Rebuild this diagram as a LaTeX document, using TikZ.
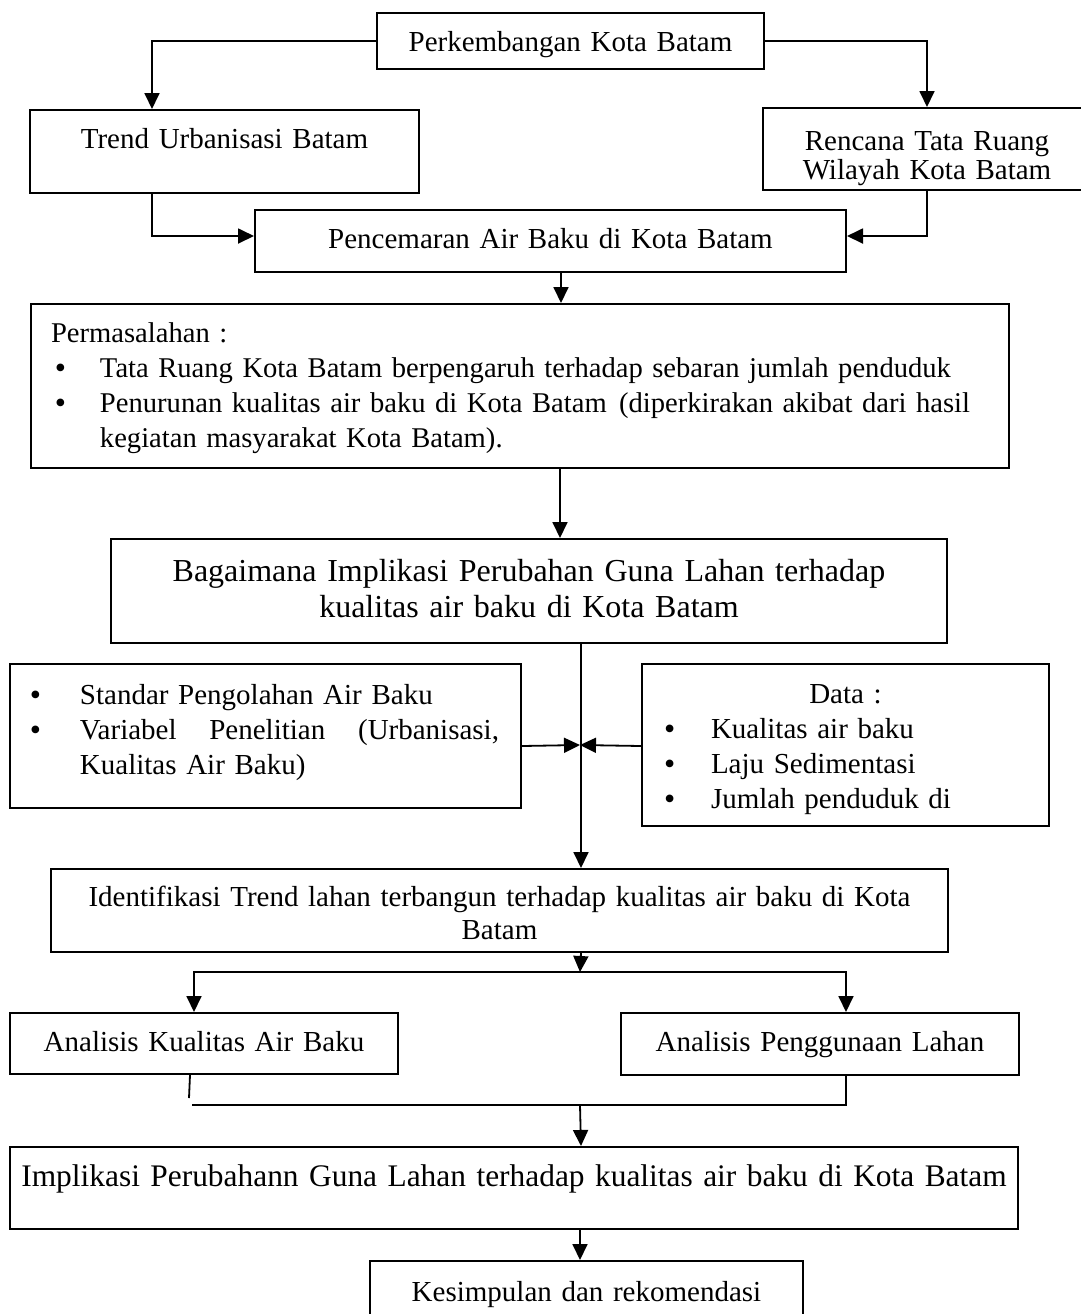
\documentclass[tikz,border=0pt]{standalone}
\usepackage{fontspec}
\setmainfont{Liberation Serif}
\usetikzlibrary{arrows.meta}
\hyphenpenalty=10000
\newcommand{\punkt}{\raisebox{-0.8pt}{\fontsize{16pt}{0pt}\selectfont\textbullet}}

\begin{document}
\begin{tikzpicture}[x=0.5pt, y=-0.5pt,
 box/.style={rectangle, draw, line width=1pt, inner sep=0pt, anchor=north west,
  align=center, font=\fontsize{14.5pt}{17.5pt}\selectfont},
 conn/.style={line width=0.9pt},
 >={Triangle[length=8pt, width=7.5pt]}]
 \useasboundingbox (0,0) rectangle (1081,1314);

 \draw node[box, text width=193.5pt, text height=19pt, text depth=9pt] (kota) at (376,12) {Perkembangan Kota Batam};
 \draw node[box, text width=194.5pt, text height=19pt, text depth=22.5pt] (trend) at (29,109) {Trend Urbanisasi Batam};
 \draw node[box, text width=164pt, text height=21pt, text depth=20pt, font=\fontsize{14.5pt}{14.5pt}\selectfont] (rtrw) at (762,107) {Rencana Tata Ruang\\ Wilayah Kota Batam};
 \draw node[box, text width=295.5pt, text height=19pt, text depth=12pt] (cemar) at (254,209) {Pencemaran Air Baku di Kota Batam};
 \draw node[box, text width=489pt, text height=19pt, text depth=63pt, align=left, font=\fontsize{14.3pt}{17.5pt}\selectfont] (masalah) at (30,303) {%
  \begin{tabular}[t]{@{\hspace{12pt}}p{22.5pt}@{}p{438pt}@{}}
  \multicolumn{2}{@{\hspace{10pt}}l@{}}{Permasalahan :}\\
  \punkt & Tata Ruang Kota Batam berpengaruh terhadap sebaran jumlah penduduk\\
  \punkt & \makebox[435pt][s]{Penurunan kualitas air baku di Kota Batam\hfill{} (diperkirakan akibat dari hasil}\\
  & kegiatan masyarakat Kota Batam).
  \end{tabular}};
 \draw node[box, text width=418pt, text height=21pt, text depth=31pt, font=\fontsize{16pt}{18pt}\selectfont] (tanya) at (110,538) {Bagaimana Implikasi Perubahan Guna Lahan terhadap\\ kualitas air baku di Kota Batam};
 \draw node[box, text width=255.5pt, text height=20pt, text depth=52pt, align=left] (standar) at (9,663) {%
  \begin{tabular}[t]{@{\hspace{10pt}}p{25pt}@{}p{209.5pt}@{}}
  \punkt & Standar Pengolahan Air Baku\\
  \punkt & \makebox[209.5pt][s]{Variabel\hfill{} Penelitian\hfill{} (Urbanisasi,}\\
  & Kualitas Air Baku)
  \end{tabular}};
 \draw node[box, text width=203.5pt, text height=19.5pt, text depth=61.5pt] (data) at (641,663) {%
  \begin{tabular}[t]{@{\hspace{11pt}}p{23.5pt}@{}p{169pt}@{}}
  \multicolumn{2}{@{}c@{}}{Data :}\\
  \punkt & Kualitas air baku\\
  \punkt & Laju Sedimentasi\\
  \punkt & Jumlah penduduk di
  \end{tabular}};
 \draw node[box, text width=448.5pt, text height=18.5pt, text depth=23pt, font=\fontsize{14.5pt}{16.5pt}\selectfont] (identif) at (50,868) {Identifikasi Trend lahan terbangun terhadap kualitas air baku di Kota\\ Batam};
 \draw node[box, text width=194pt, text height=19pt, text depth=11.5pt] (kualitas) at (9,1012) {Analisis Kualitas Air Baku};
 \draw node[box, text width=199pt, text height=19pt, text depth=12pt] (guna) at (620,1012) {Analisis Penggunaan Lahan};
 \draw node[box, text width=504pt, text height=19.5pt, text depth=21.5pt, font=\fontsize{15.7pt}{18pt}\selectfont] (implik) at (9,1146) {Implikasi Perubahann Guna Lahan terhadap kualitas air baku di Kota Batam};
 \draw node[box, text width=216.5pt, text height=20pt, text depth=12.5pt] (simpul) at (369,1260) {Kesimpulan dan rekomendasi};

 \coordinate (tengah) at (580,745);
 \coordinate (cabang) at (580,972);
 \coordinate (ujung) at (189,1098);
 \coordinate (gabungkiri) at (192,1105);
 \coordinate (gabung) at (580,1105);

 \draw[conn, ->] (kota.west) -| ([xshift=61.5pt]trend.north west);
 \draw[conn, ->] (kota.east) -| (rtrw.north);
 \draw[conn, ->] ([xshift=61.5pt]trend.south west) |- ([yshift=2.5pt]cemar.west);
 \draw[conn, ->] (rtrw.south) |- ([yshift=2.5pt]cemar.east);
 \draw[conn, ->] ([xshift=5.25pt]cemar.south) -- ([xshift=20.5pt]masalah.north);
 \draw[conn, ->] ([xshift=20pt]masalah.south) -- ([xshift=15.5pt]tanya.north);
 \draw[conn, ->] ([xshift=26pt]tanya.south) -- ([xshift=40.75pt]identif.north);
 \draw[conn, ->] ([yshift=-5pt]standar.east) -- (tengah);
 \draw[conn, ->] ([yshift=-0.5pt]data.west) -- (tengah);
 \draw[conn, ->] ([xshift=40.75pt]identif.south) -- (cabang);
 \draw[conn, ->] (cabang) -| ([xshift=-5pt]kualitas.north);
 \draw[conn, ->] (cabang) -| ([xshift=13pt]guna.north);
 \draw[conn] ([xshift=-7pt]kualitas.south) -- (ujung);
 \draw[conn] ([xshift=13pt]guna.south) |- (gabungkiri);
 \draw[conn, ->] (gabung) -- ([xshift=33.5pt]implik.north);
 \draw[conn, ->] ([xshift=33pt]implik.south) -- ([xshift=-3.25pt]simpul.north);
\end{tikzpicture}
\end{document}
